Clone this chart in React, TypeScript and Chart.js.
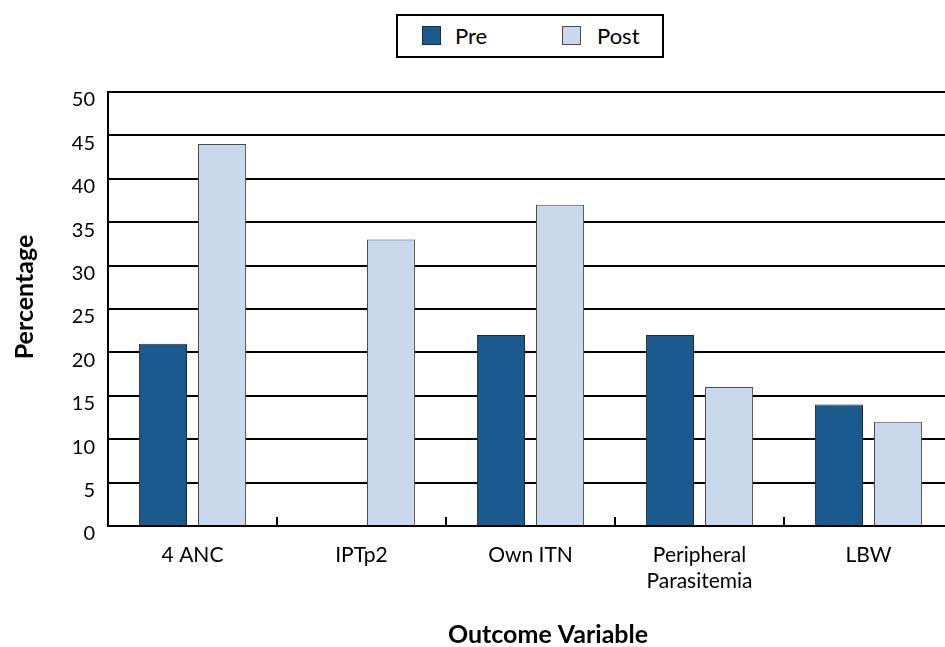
import React, { useEffect, useRef } from "react";
import { Chart, registerables } from "chart.js";

Chart.register(...registerables);

const categories: (string | string[])[] = ["4 ANC", "IPTp2", "Own ITN", ["Peripheral", "Parasitemia"], "LBW"];
const preValues: (number | null)[] = [21, null, 22, 22, 14];
const postValues: number[] = [44, 33, 37, 16, 12];
const seriesNames = ["Pre", "Post"];
const seriesColors = ["#1a5a8e", "#c9d8ea"];
const seriesBorders = ["#2b2b2b", "#4a4a4a"];
const yMin = 0;
const yMax = 50;
const yStep = 5;
const xTitle = "Outcome Variable";
const yTitle = "Percentage";

const FONT = "Lato, 'Open Sans', sans-serif";

const decorPlugin = {
  id: "decor",
  afterDraw(chart: any) {
    const { ctx, chartArea, scales } = chart;
    const x = scales.x;
    ctx.save();
    ctx.strokeStyle = "#000";
    ctx.lineWidth = 2;
    for (let i = 1; i < categories.length; i++) {
      const px = Math.round((x.getPixelForValue(i - 1) + x.getPixelForValue(i)) / 2);
      ctx.beginPath();
      ctx.moveTo(px, chartArea.bottom);
      ctx.lineTo(px, chartArea.bottom - 9);
      ctx.stroke();
    }
    ctx.fillStyle = "#000";
    ctx.font = `bold 25px ${FONT}`;
    ctx.textAlign = "center";
    ctx.textBaseline = "middle";
    ctx.fillText(xTitle, 548, 635);
    ctx.translate(25, 297);
    ctx.rotate(-Math.PI / 2);
    ctx.fillText(yTitle, 0, 0);
    ctx.restore();
  },
};

export default function App() {
  const ref = useRef<HTMLCanvasElement | null>(null);

  useEffect(() => {
    document.body.style.margin = "0";
    const canvas = ref.current;
    if (!canvas) return;
    const chart = new Chart(canvas, {
      type: "bar",
      data: {
        labels: categories as any,
        datasets: [
          {
            label: seriesNames[0],
            data: preValues,
            backgroundColor: seriesColors[0],
            borderColor: seriesBorders[0],
            borderWidth: 1,
            categoryPercentage: 0.699,
            barPercentage: 0.814,
          },
          {
            label: seriesNames[1],
            data: postValues,
            backgroundColor: seriesColors[1],
            borderColor: seriesBorders[1],
            borderWidth: 1,
            categoryPercentage: 0.699,
            barPercentage: 0.814,
          },
        ],
      },
      options: {
        responsive: false,
        animation: false,
        layout: { padding: { top: 92, left: 0, right: 0, bottom: 0 } },
        plugins: {
          legend: { display: false },
          tooltip: { enabled: false },
        },
        scales: {
          x: {
            grid: { display: false, drawTicks: false },
            border: { display: true, color: "#000", width: 2 },
            ticks: {
              color: "#000",
              font: { family: FONT, size: 21 },
              padding: 17,
              maxRotation: 0,
              autoSkip: false,
            },
            afterFit(scale: any) {
              scale.height = 121;
            },
          },
          y: {
            min: yMin,
            max: yMax,
            grid: { color: "#000", lineWidth: 2, drawTicks: false },
            border: { display: true, color: "#000", width: 2 },
            ticks: {
              stepSize: yStep,
              color: "#000",
              font: { family: FONT, size: 20 },
              padding: 13,
              labelOffset: 8,
            },
            afterFit(scale: any) {
              scale.width = 108;
            },
          },
        },
      },
      plugins: [decorPlugin],
    });
    return () => chart.destroy();
  }, []);

  const legendItems = seriesNames.map((name, i) => ({ name, color: seriesColors[i], border: seriesBorders[i] }));
  const swatchLeft = [24, 164];
  const textLeft = [57, 199];

  return (
    <div style={{ position: "relative", width: 945, height: 647, overflow: "hidden" }}>
      <canvas ref={ref} width={953} height={647} style={{ display: "block" }} />
      <div
        style={{
          position: "absolute",
          left: 396,
          top: 14,
          width: 268,
          height: 44,
          border: "2px solid #000",
          boxSizing: "border-box",
          background: "#fff",
          fontFamily: FONT,
        }}
      >
        {legendItems.map((it, i) => (
          <React.Fragment key={it.name}>
            <div
              style={{
                position: "absolute",
                left: swatchLeft[i],
                top: 10,
                width: 19,
                height: 19,
                background: it.color,
                border: `1px solid ${it.border}`,
                boxSizing: "border-box",
              }}
            />
            <div
              style={{
                position: "absolute",
                left: textLeft[i],
                top: 0,
                height: 40,
                lineHeight: "40px",
                fontSize: 22,
                color: "#000",
              }}
            >
              {it.name}
            </div>
          </React.Fragment>
        ))}
      </div>
    </div>
  );
}
